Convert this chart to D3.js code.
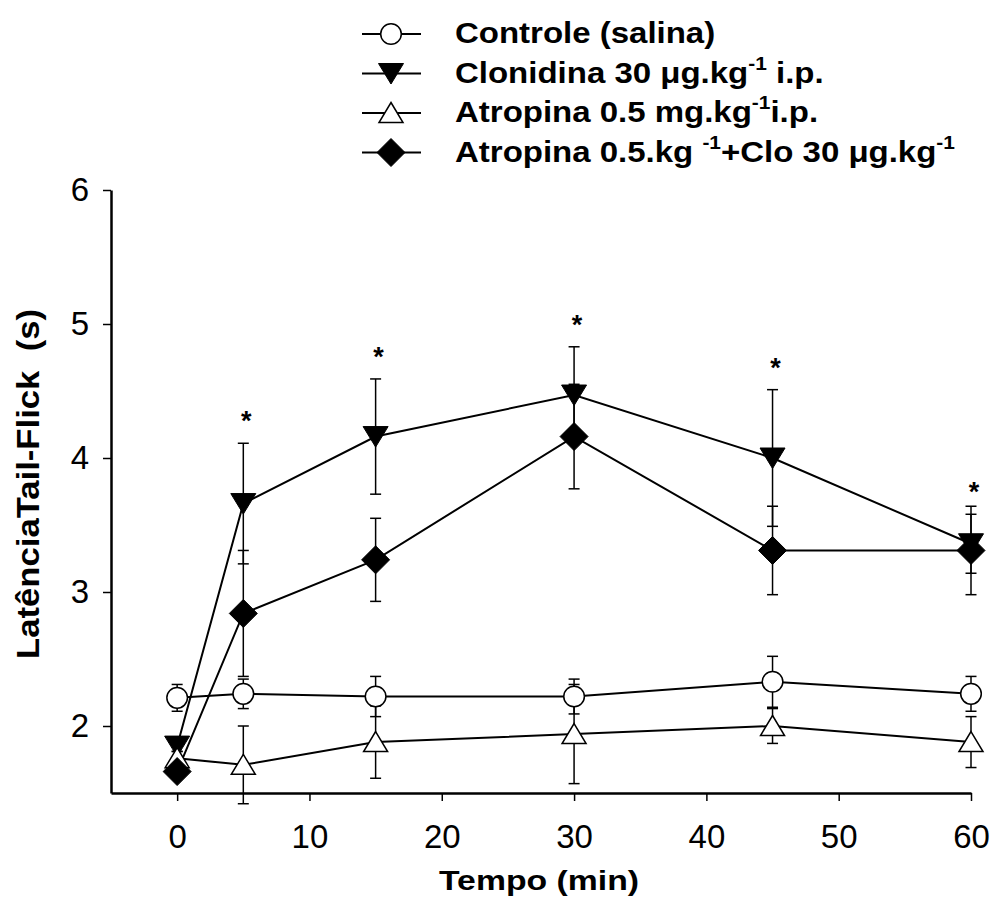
<!DOCTYPE html>
<html>
<head>
<meta charset="utf-8">
<script src="https://cdn.jsdelivr.net/npm/d3@7"></script>
<style>
  html, body { margin: 0; padding: 0; background: #fff; }
  svg { display: block; }
  text { font-family: "Liberation Sans", Arial, Helvetica, sans-serif; fill: #000; }
</style>
</head>
<body>
<svg id="chart" width="992" height="901"></svg>
<script>
// ---- data ----
const times = [0, 5, 15, 30, 45, 60];
const controle = [2.21, 2.24, 2.22, 2.22, 2.33, 2.24];
const controleErr = [0.10, 0.11, 0.15, 0.13, 0.19, 0.13];
const clonidina = [1.85, 3.66, 4.16, 4.47, 4.00, 3.36];
const clonidinaErr = [0.04, 0.45, 0.43, 0.36, 0.51, 0.22];
const atropina = [1.76, 1.71, 1.88, 1.94, 2.00, 1.88];
const atropinaErr = [0.05, 0.29, 0.27, 0.37, 0.13, 0.19];
const combo = [1.66, 2.84, 3.24, 4.16, 3.31, 3.31];
const comboErr = [0.05, 0.47, 0.31, 0.39, 0.33, 0.33];
const sigTimes = [5, 15, 30, 45, 60];   // asterisks above Clonidina
const xTicks = [0, 10, 20, 30, 40, 50, 60];
const yTicks = [2, 3, 4, 5, 6];
const xLabel = "Tempo (min)";
const yLabel = "LatênciaTail-Flick  (s)";

const series = [
  { key: "controle", values: controle, err: controleErr, marker: "circle" },
  { key: "clonidina", values: clonidina, err: clonidinaErr, marker: "triDown" },
  { key: "atropina", values: atropina, err: atropinaErr, marker: "triUp" },
  { key: "combo", values: combo, err: comboErr, marker: "diamond" }
];

// ---- layout ----
const svg = d3.select("#chart");
const x = d3.scaleLinear().domain([-5, 60]).range([111, 971]);
const y = d3.scaleLinear().domain([1.5, 6]).range([793, 190]);

function drawMarker(g, type, cx, cy) {
  if (type === "circle") {
    g.append("circle").attr("cx", cx).attr("cy", cy).attr("r", 10.3)
      .attr("fill", "#fff").attr("stroke", "#000").attr("stroke-width", 1.5);
  } else if (type === "triUp") {
    g.append("path").attr("d", `M${cx},${cy - 10.5} L${cx + 12},${cy + 9.5} L${cx - 12},${cy + 9.5} Z`)
      .attr("fill", "#fff").attr("stroke", "#000").attr("stroke-width", 1.5);
  } else if (type === "triDown") {
    g.append("path").attr("d", `M${cx - 12.5},${cy - 10} L${cx + 12.5},${cy - 10} L${cx},${cy + 10.5} Z`)
      .attr("fill", "#000").attr("stroke", "#000").attr("stroke-width", 1);
  } else if (type === "diamond") {
    g.append("path").attr("d", `M${cx},${cy - 14} L${cx + 14},${cy} L${cx},${cy + 14} L${cx - 14},${cy} Z`)
      .attr("fill", "#000").attr("stroke", "#000").attr("stroke-width", 1);
  }
}

// ---- axes ----
const xAxis = d3.axisBottom(x).tickValues(xTicks).tickFormat(d3.format("d"))
  .tickSizeInner(8).tickSizeOuter(0).tickPadding(24);
const gx = svg.append("g").attr("transform", "translate(0,793)").call(xAxis);
gx.select(".domain").attr("stroke", "#000").attr("stroke-width", 2.5);
gx.selectAll(".tick line").attr("stroke", "#000").attr("stroke-width", 1.5);
gx.selectAll(".tick text").attr("font-size", 33).attr("font-family", "Liberation Sans, Arial, sans-serif").attr("fill", "#000");

const yAxis = d3.axisLeft(y).tickValues(yTicks).tickFormat(d3.format("d"))
  .tickSizeInner(8).tickSizeOuter(0).tickPadding(14);
const gy = svg.append("g").attr("transform", "translate(111,0)").call(yAxis);
gy.select(".domain").attr("stroke", "#000").attr("stroke-width", 2.5);
gy.selectAll(".tick line").attr("stroke", "#000").attr("stroke-width", 1.5);
gy.selectAll(".tick text").attr("font-size", 33).attr("font-family", "Liberation Sans, Arial, sans-serif").attr("fill", "#000");

// axis titles
svg.append("text").attr("x", 539).attr("y", 890).attr("text-anchor", "middle")
  .attr("font-size", 28).attr("font-weight", "bold")
  .attr("textLength", 200).attr("lengthAdjust", "spacingAndGlyphs")
  .text(xLabel);
svg.append("text").attr("transform", "translate(39,484) rotate(-90)").attr("text-anchor", "middle")
  .attr("font-size", 31).attr("font-weight", "bold").style("white-space", "pre")
  .attr("textLength", 350).attr("lengthAdjust", "spacingAndGlyphs")
  .text(yLabel);

// ---- series lines ----
const line = d3.line().x((d, i) => x(times[i])).y(d => y(d));
const gLines = svg.append("g");
series.forEach(s => {
  gLines.append("path").attr("d", line(s.values)).attr("fill", "none")
    .attr("stroke", "#000").attr("stroke-width", 2);
});

// ---- error bars ----
const gErr = svg.append("g").attr("stroke", "#000").attr("stroke-width", 1.5);
series.forEach(s => {
  s.values.forEach((v, i) => {
    const cx = x(times[i]);
    const yt = y(v + s.err[i]), yb = y(v - s.err[i]);
    gErr.append("line").attr("x1", cx).attr("x2", cx).attr("y1", yt).attr("y2", yb);
    gErr.append("line").attr("x1", cx - 5.5).attr("x2", cx + 5.5).attr("y1", yt).attr("y2", yt);
    gErr.append("line").attr("x1", cx - 5.5).attr("x2", cx + 5.5).attr("y1", yb).attr("y2", yb);
  });
});

// ---- markers ----
const gMarks = svg.append("g");
series.forEach(s => {
  s.values.forEach((v, i) => drawMarker(gMarks, s.marker, x(times[i]), y(v)));
});

// ---- significance asterisks ----
sigTimes.forEach(t => {
  const i = times.indexOf(t);
  const top = y(clonidina[i] + clonidinaErr[i]);
  svg.append("text").attr("x", x(t) + 3).attr("y", top - 13)
    .attr("text-anchor", "middle").attr("font-size", 27).attr("font-weight", "bold").text("*");
});

// ---- legend ----
const legendItems = [
  { marker: "circle", parts: [["Controle (salina)", false]] },
  { marker: "triDown", parts: [["Clonidina 30 μg.kg", false], ["-1", true], [" i.p.", false]] },
  { marker: "triUp", parts: [["Atropina 0.5 mg.kg", false], ["-1", true], ["i.p.", false]] },
  { marker: "diamond", parts: [["Atropina 0.5.kg ", false], ["-1", true], ["+Clo 30 μg.kg", false], ["-1", true]] }
];
const gLeg = svg.append("g");
legendItems.forEach((it, k) => {
  const cy = 34 + k * 39.5;
  gLeg.append("line").attr("x1", 362).attr("x2", 421).attr("y1", cy).attr("y2", cy)
    .attr("stroke", "#000").attr("stroke-width", 2);
  drawMarker(gLeg, it.marker, 391, cy);
  const t = gLeg.append("text")
    .attr("transform", `translate(455,${cy + 9}) scale(1.1,1)`)
    .attr("font-size", 30).attr("font-weight", "bold").style("white-space", "pre");
  it.parts.forEach(([txt, sup], j) => {
    const ts = t.append("tspan").text(txt);
    if (sup) ts.attr("font-size", 19).attr("dy", -13);
    else if (j > 0 && it.parts[j - 1][1]) ts.attr("dy", 13);
  });
});
</script>
</body>
</html>
